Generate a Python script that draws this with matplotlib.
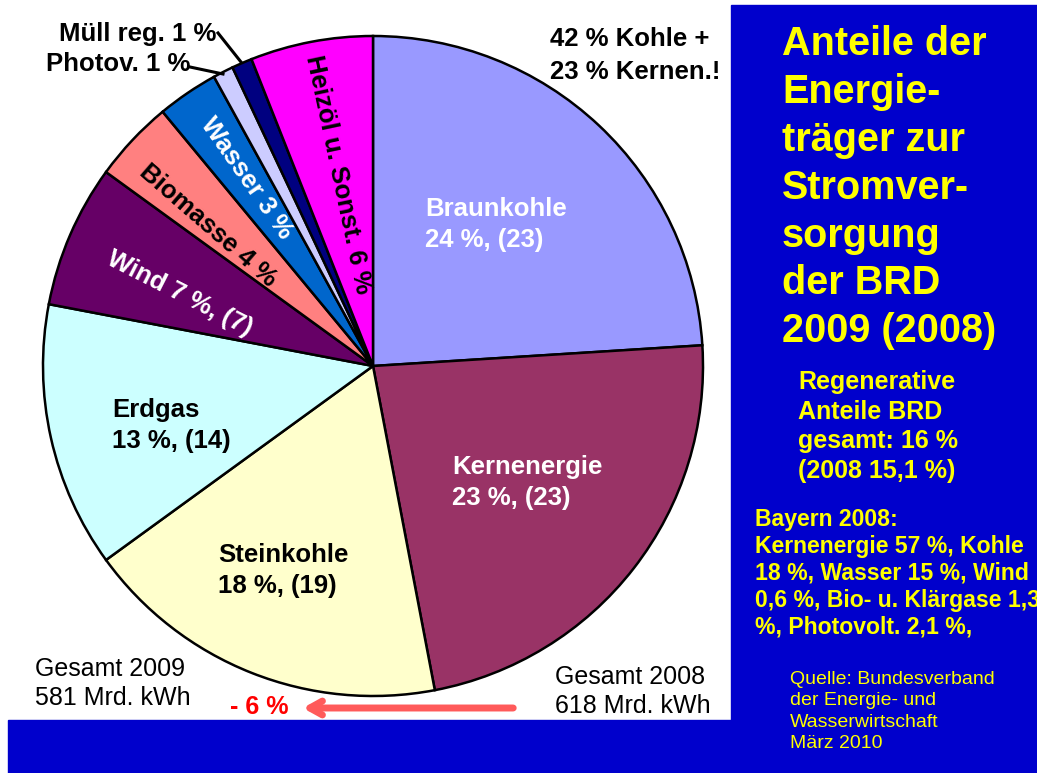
import matplotlib
matplotlib.use("Agg")
import matplotlib.pyplot as plt
from matplotlib.patches import Rectangle

plt.rcParams["font.family"] = ["Liberation Sans", "DejaVu Sans"]

W, H = 1037, 773
BLUE = "#0000CC"
YELLOW = "#FFFF00"

# Stromerzeugung BRD 2009 (2008), Anteile in %
sources = ["Braunkohle", "Kernenergie", "Steinkohle", "Erdgas", "Wind",
           "Biomasse", "Wasser", "Photov.", "Müll reg.", "Heizöl u. Sonst."]
share_2009 = [24, 23, 18, 13, 7, 4, 3, 1, 1, 6]
share_2008 = [23, 23, 19, 14, 7, None, None, None, None, None]
colors = ["#9999FF", "#993366", "#FFFFCC", "#CCFFFF", "#660066",
          "#FF8080", "#0066CC", "#CCCCFF", "#000080", "#FF00FF"]

total_2009 = 581
total_2008 = 618


def label(i):
    s = f"{share_2009[i]} %"
    if share_2008[i] is not None:
        s += f", ({share_2008[i]})"
    return s


def Y(y):
    return H - y


fig = plt.figure(figsize=(W / 100, H / 100), dpi=100, facecolor="white")
ax = fig.add_axes([0, 0, 1, 1])
ax.add_patch(Rectangle((731, 0), W - 731, Y(5), color=BLUE, zorder=0))
ax.add_patch(Rectangle((8, 0), W - 8, Y(720), color=BLUE, zorder=0))

ax.pie(share_2009, colors=colors, startangle=90, counterclock=False,
       center=(373, Y(366)), radius=330,
       wedgeprops=dict(edgecolor="black", linewidth=1.8))
ax.set_xlim(0, W)
ax.set_ylim(0, H)
ax.set_aspect("equal")
ax.axis("off")

fs = 18.5
kw = dict(fontsize=fs, fontweight="bold", ha="left", va="top", linespacing=1.36)
ax.text(425, Y(197), f"{sources[0]}\n{label(0)}", color="white", **kw)
ax.text(452, Y(455), f"{sources[1]}\n{label(1)}", color="white", **kw)
ax.text(218, Y(543), f"{sources[2]}\n{label(2)}", color="black", **kw)
ax.text(112, Y(398), f"{sources[3]}\n{label(3)}", color="black", **kw)

rk = dict(fontsize=fs, fontweight="bold", ha="center", va="center",
          rotation_mode="anchor")
ax.text(180, Y(294), f"{sources[4]} {label(4)}", color="white", rotation=-27, **rk)
ax.text(208, Y(226), f"{sources[5]} {label(5)}", color="black", rotation=-41, **rk)
ax.text(247, Y(178), f"{sources[6]} {label(6)}", color="white", rotation=-55, **rk)
ax.text(338, Y(175), f"{sources[9]} {label(9)}", color="black", rotation=-78, **rk)

# kleine Sektoren mit Führungslinien
ax.text(216, Y(34), f"{sources[8]} {label(8)}", fontsize=fs, fontweight="bold",
        ha="right", va="center")
ax.plot([218, 241], [Y(33), Y(62)], color="black", lw=2.2)
ax.text(190, Y(64), f"{sources[7]} {label(7)}", fontsize=fs, fontweight="bold",
        ha="right", va="center")
ax.plot([190, 223], [Y(67), Y(74)], color="black", lw=2.2)

ax.text(550, Y(27), "42 % Kohle +\n23 % Kernen.!", **dict(kw, linespacing=1.45))

ax.text(35, Y(657), f"Gesamt 2009\n{total_2009} Mrd. kWh", fontsize=18,
        ha="left", va="top", linespacing=1.25)
ax.text(555, Y(665), f"Gesamt 2008\n{total_2008} Mrd. kWh", fontsize=18,
        ha="left", va="top", linespacing=1.25)
change = round((total_2009 - total_2008) / total_2008 * 100)
ax.text(259, Y(707), f"- {abs(change)} %", color="#FF0000", fontsize=18,
        fontweight="bold", ha="center", va="center")
ax.annotate("", xy=(300, Y(708)), xytext=(516, Y(708)),
            arrowprops=dict(arrowstyle="->, head_length=0.9, head_width=0.5",
                            color="#FF5A5A", lw=5))

# rechte Spalte
ax.text(782, Y(25), "Anteile der\nEnergie-\nträger zur\nStromver-\nsorgung\nder BRD\n2009 (2008)",
        color=YELLOW, fontsize=28.5, fontweight="bold", ha="left", va="top",
        linespacing=1.33)
ax.text(798, Y(370), "Regenerative\nAnteile BRD\ngesamt: 16 %\n(2008 15,1 %)",
        color=YELLOW, fontsize=18, fontweight="bold", ha="left", va="top",
        linespacing=1.29)
ax.text(755, Y(508), "Bayern 2008:\nKernenergie 57 %, Kohle\n18 %, Wasser 15 %, Wind\n"
        "0,6 %, Bio- u. Klärgase 1,3\n%, Photovolt. 2,1 %,",
        color=YELLOW, fontsize=16.6, fontweight="bold", ha="left", va="top",
        linespacing=1.22)
ax.text(790, Y(671), "Quelle: Bundesverband\nder Energie- und\nWasserwirtschaft\nMärz 2010",
        color=YELLOW, fontsize=14, ha="left", va="top", linespacing=1.34)

fig.savefig("out.png", dpi=100, facecolor="white")
